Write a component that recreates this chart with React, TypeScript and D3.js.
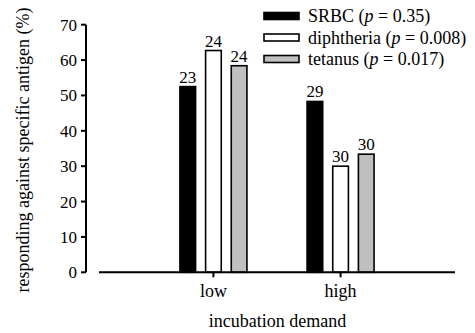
import React from "react";
import * as d3 from "d3";

const categories = ["low", "high"];
const seriesNames = ["SRBC", "diphtheria", "tetanus"];
const pValues = ["0.35", "0.008", "0.017"];
const srbc = [52.5, 48.3];
const diphtheria = [62.7, 30.0];
const tetanus = [58.4, 33.4];
const nLabels = [
  ["23", "29"],
  ["24", "30"],
  ["24", "30"],
];
const yTicks = [0, 10, 20, 30, 40, 50, 60, 70];
const fills = ["#000000", "#ffffff", "#c0c0c0"];

const W = 475;
const H = 333;
const FONT = "Liberation Serif";

export default function App() {
  const series = [srbc, diphtheria, tetanus];
  const y = d3.scaleLinear().domain([0, 70]).range([272.3, 24.7]);
  const x = d3.scalePoint<string>().domain(categories).range([99, 455]).padding(0.9);
  const inner = d3
    .scaleBand<string>()
    .domain(seriesNames)
    .range([-33.5, 33.5])
    .paddingInner(0.39)
    .paddingOuter(0);
  const bw = inner.bandwidth();
  const y0 = y(0);

  return (
    <svg
      width={W}
      height={H}
      style={{ position: "absolute", left: 0, top: 0, background: "#fff", fontFamily: FONT }}
    >
      <rect width={W} height={H} fill="#fff" />
      {/* bars */}
      {series.map((vals, si) =>
        categories.map((c, ci) => {
          const bx = (x(c) as number) + (inner(seriesNames[si]) as number);
          const top = y(vals[ci]);
          return (
            <g key={`${si}-${ci}`}>
              <rect
                x={bx}
                y={top}
                width={bw}
                height={y0 - top}
                fill={fills[si]}
                stroke="#000"
                strokeWidth={1.6}
              />
              <text
                x={bx + bw / 2}
                y={top - 4}
                textAnchor="middle"
                fontSize={17}
                fill="#000"
              >
                {nLabels[si][ci]}
              </text>
            </g>
          );
        })
      )}
      {/* y axis */}
      <line x1={86} x2={86} y1={y(70)} y2={y0} stroke="#000" strokeWidth={2} />
      {yTicks.map((t) => (
        <g key={t}>
          <line x1={81} x2={86} y1={y(t)} y2={y(t)} stroke="#000" strokeWidth={2} />
          <text x={77} y={y(t)} dy="0.35em" textAnchor="end" fontSize={17} fill="#000">
            {t}
          </text>
        </g>
      ))}
      {/* x axis */}
      <line x1={99} x2={455} y1={y0} y2={y0} stroke="#000" strokeWidth={2} />
      {categories.map((c) => (
        <g key={c}>
          <line
            x1={x(c) as number}
            x2={x(c) as number}
            y1={y0}
            y2={y0 + 5}
            stroke="#000"
            strokeWidth={2}
          />
          <text x={x(c) as number} y={297} textAnchor="middle" fontSize={18} fill="#000">
            {c}
          </text>
        </g>
      ))}
      <text x={277.5} y={327} textAnchor="middle" fontSize={18} fill="#000">
        incubation demand
      </text>
      <text
        transform="translate(29,150) rotate(-90)"
        textAnchor="middle"
        fontSize={18}
        fill="#000"
      >
        responding against specific antigen (%)
      </text>
      {/* legend */}
      {seriesNames.map((s, i) => {
        const cy = 16 + i * 21.5;
        return (
          <g key={s}>
            <rect
              x={264}
              y={cy - 3.5}
              width={35}
              height={7}
              fill={fills[i]}
              stroke="#000"
              strokeWidth={1.6}
            />
            <text x={308} y={cy} dy="0.35em" fontSize={18} fill="#000">
              {s} (<tspan fontStyle="italic">p</tspan> = {pValues[i]})
            </text>
          </g>
        );
      })}
    </svg>
  );
}
